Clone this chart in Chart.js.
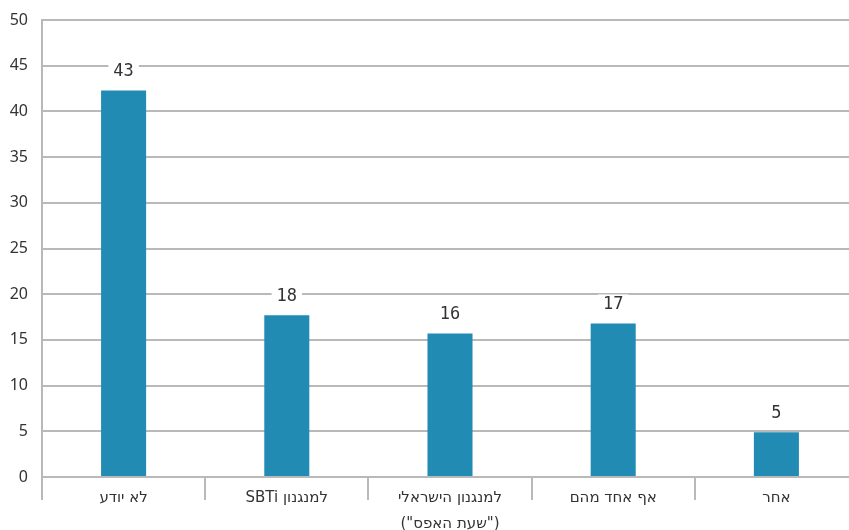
<!DOCTYPE html>
<html>
<head>
<meta charset="utf-8">
<script src="https://cdn.jsdelivr.net/npm/chart.js@4/dist/chart.umd.min.js"></script>
<style>
html,body{margin:0;padding:0;background:#fff;overflow:hidden;}
canvas{display:block;}
</style>
</head>
<body>
<canvas id="c" width="858" height="530" dir="rtl"></canvas>
<script>
const categories = [
  "לא יודע",
  "למנגנון SBTi",
  ["למנגנון הישראלי", "(\"שעת האפס\")"],
  "אף אחד מהם",
  "אחר"
];
const values = [42.3, 17.7, 15.7, 16.8, 4.9];
const valueLabels = ["43", "18", "16", "17", "5"];
const yTicks = { min: 0, max: 50, step: 5 };

const barColor = '#228bb4';
const gridColor = '#b9b9b9';
const textColor = '#333333';

const labelPlugin = {
  id: 'valueLabels',
  afterDatasetsDraw(chart) {
    const ctx = chart.ctx;
    const meta = chart.getDatasetMeta(0);
    ctx.save();
    ctx.font = '17px "DejaVu Sans Mono", monospace';
    ctx.textAlign = 'center';
    ctx.textBaseline = 'middle';
    meta.data.forEach((el, i) => {
      const t = valueLabels[i];
      const w = ctx.measureText(t).width;
      const y = el.y - 19;
      ctx.fillStyle = '#ffffff';
      ctx.fillRect(el.x - w / 2 - 5, y - 10, w + 10, 20);
      ctx.fillStyle = textColor;
      ctx.fillText(t, el.x, y);
    });
    ctx.restore();
  }
};

new Chart(document.getElementById('c'), {
  type: 'bar',
  data: {
    labels: categories,
    datasets: [{
      data: values,
      backgroundColor: barColor,
      borderWidth: 0,
      barPercentage: 0.276,
      categoryPercentage: 1
    }]
  },
  options: {
    responsive: false,
    animation: false,
    devicePixelRatio: 1,
    layout: { autoPadding: false, padding: { top: 20, left: 0, right: 0, bottom: 0 } },
    plugins: { legend: { display: false }, tooltip: { enabled: false } },
    scales: {
      x: {
        offset: true,
        grid: {
          offset: true,
          drawOnChartArea: false,
          drawTicks: true,
          tickLength: 23,
          color: gridColor,
          lineWidth: 2
        },
        border: { display: true, color: gridColor, width: 2 },
        ticks: {
          color: textColor,
          padding: -15,
          maxRotation: 0,
          autoSkip: false,
          font: { family: '"DejaVu Sans", sans-serif', size: 15, lineHeight: 1.75 }
        },
        afterFit(s) { s.height = 53; s.paddingLeft = 0; s.paddingRight = 0; }
      },
      y: {
        min: yTicks.min,
        max: yTicks.max,
        ticks: {
          stepSize: yTicks.step,
          color: textColor,
          padding: 14,
          font: { family: '"Noto Sans", sans-serif', size: 16 }
        },
        grid: { color: gridColor, lineWidth: 2, drawTicks: false },
        border: { display: true, color: gridColor, width: 2 },
        afterFit(s) { s.width = 42; s.paddingTop = 0; s.paddingBottom = 0; }
      }
    }
  },
  plugins: [labelPlugin]
});
</script>
</body>
</html>
